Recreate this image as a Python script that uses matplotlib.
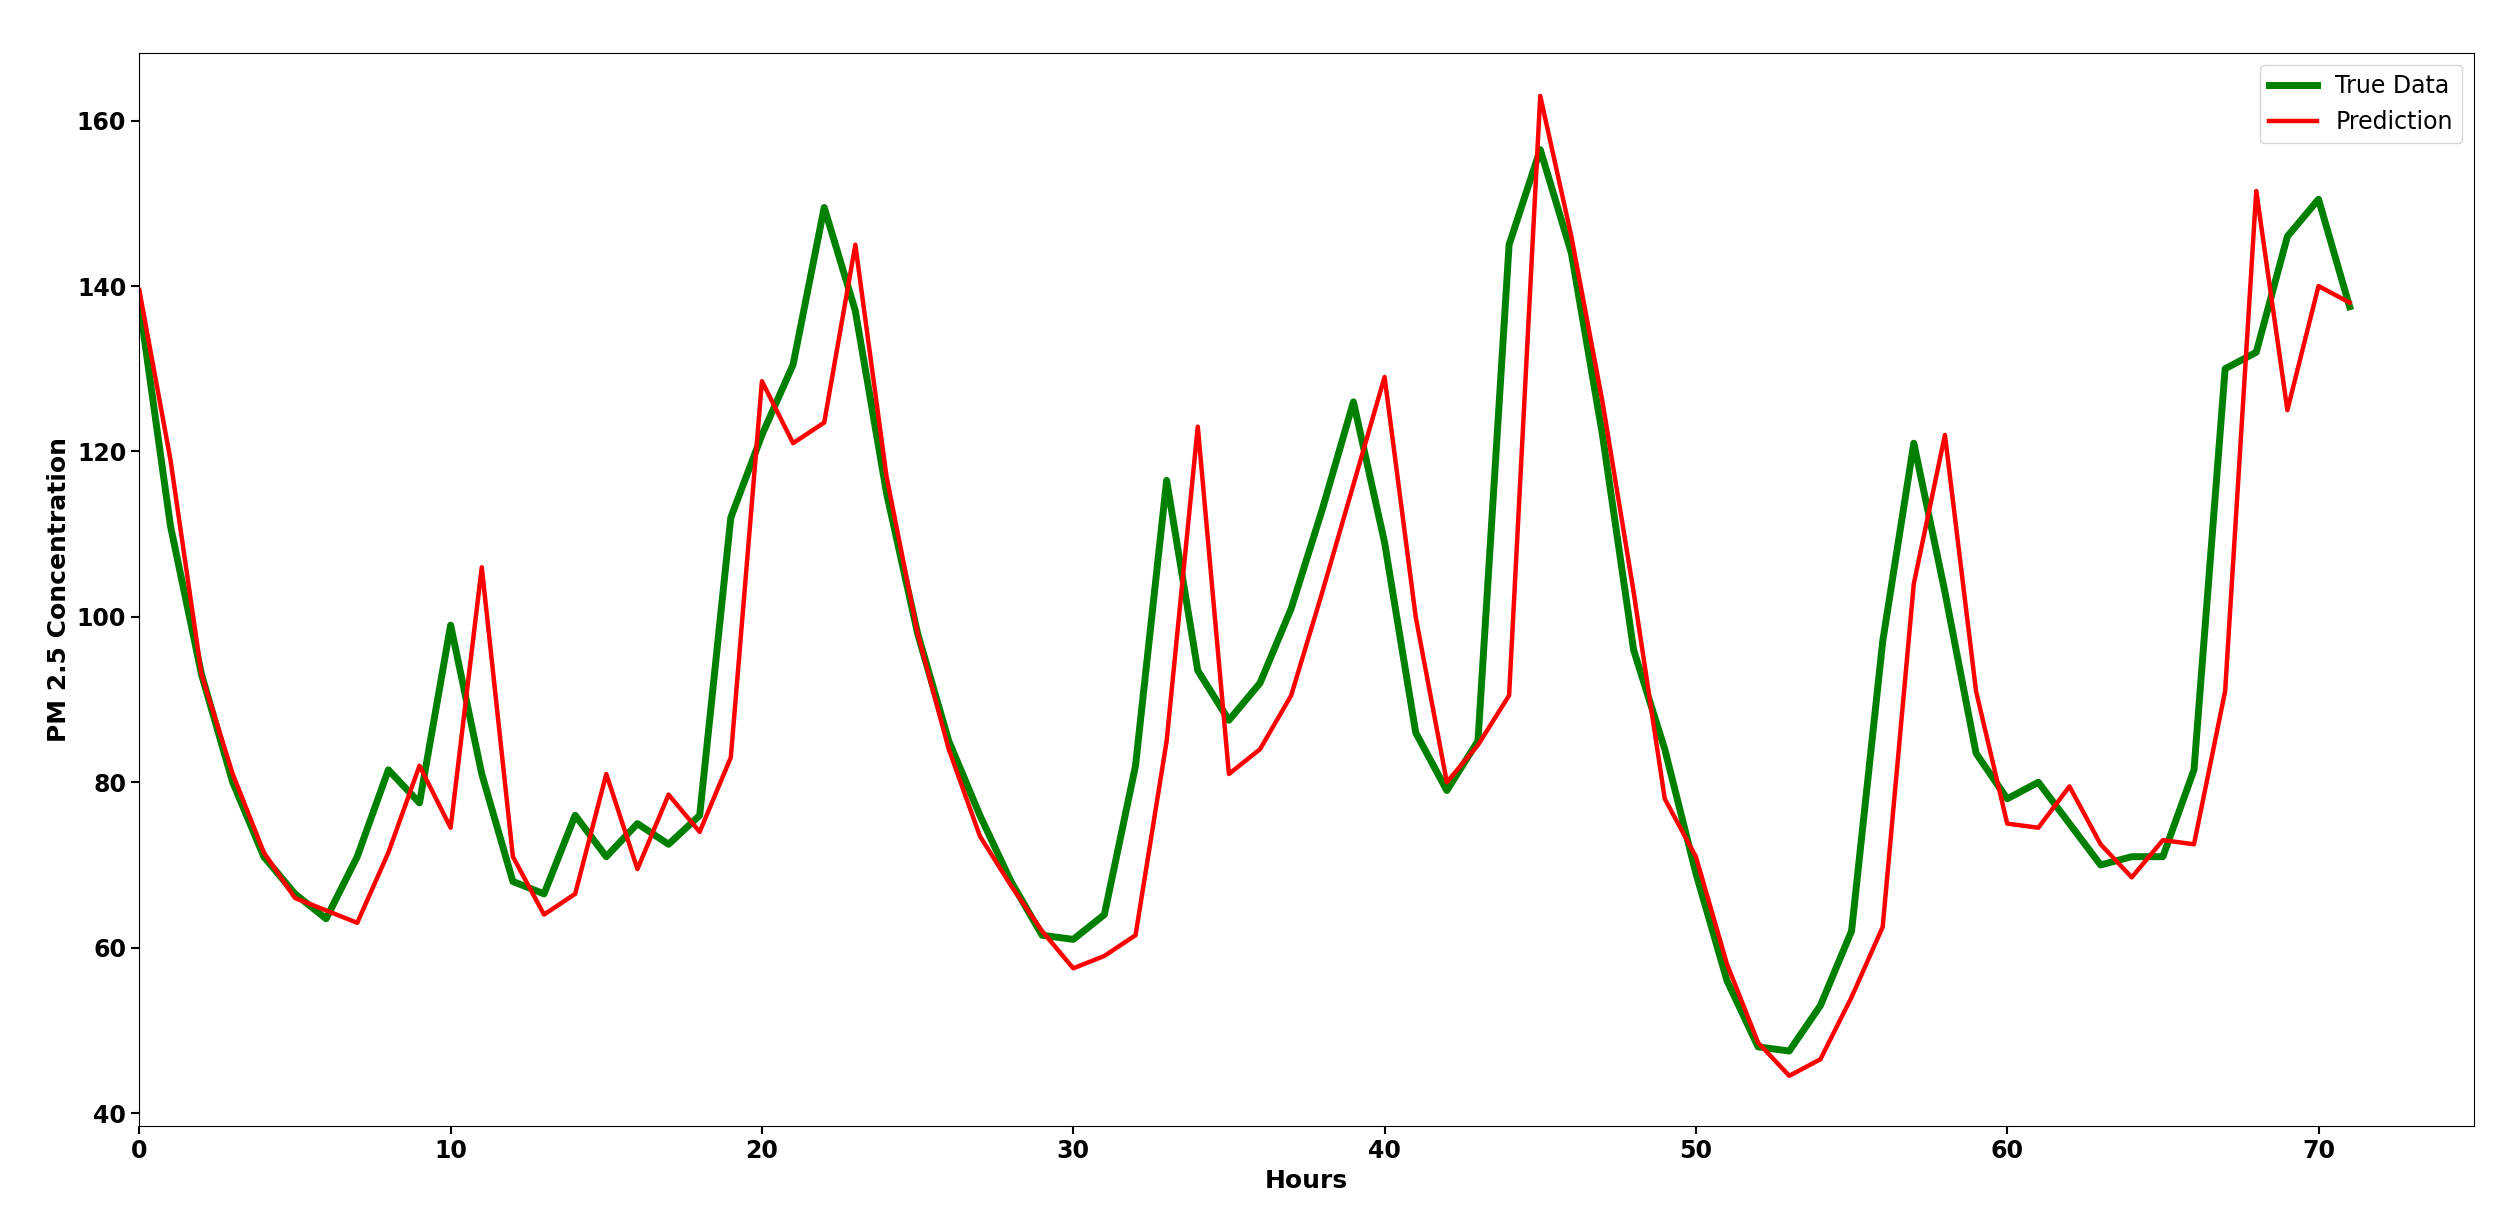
import matplotlib
matplotlib.use("Agg")
import matplotlib.pyplot as plt

hours = list(range(72))
true_data = [138,111,93,80,71,66.5,63.5,71,81.5,77.5,99,81,68,66.5,76,71,75,72.5,76,112,
             122,130.5,149.5,137,115,98,85,76,68,61.5,61,64,82,116.5,93.5,87.5,92,101,113,126,
             109,86,79,85,145,156.5,144,122,96,84,69,56,48,47.5,53,62,97,121,103,83.5,
             78,80,75,70,71,71,81.5,130,132,146,150.5,137.5]
prediction = [139.5,119,93,81,71.5,66,64.5,63,71.5,82,74.5,106,71,64,66.5,81,69.5,78.5,74,83,
              128.5,121,123.5,145,117,98,84,73.5,67.5,62,57.5,59,61.5,85,123,81,84,90.5,103,116,
              129,100,80,84.5,90.5,163,146,126,103,78,71,58,48.5,44.5,46.5,54,62.5,104,122,91,
              75,74.5,79.5,72.5,68.5,73,72.5,91,151.5,125,140,138]

fig = plt.figure(figsize=(25.11, 12.24), dpi=100)
H = 764
ax = fig.add_axes([87/1568, 1-703/H, (1545-87)/1568, (703-33)/H])
ax.plot(hours, true_data, color="green", lw=5, label="True Data")
ax.plot(hours, prediction, color="red", lw=3.2, label="Prediction")
ax.set_xlim(0, 75)
ax.set_ylim(38.4, 168.2)
ax.set_xticks([0, 10, 20, 30, 40, 50, 60, 70])
ax.set_yticks([40, 60, 80, 100, 120, 140, 160])
ax.tick_params(labelsize=17, length=6, width=1.5)
for t in ax.get_xticklabels() + ax.get_yticklabels():
    t.set_fontweight("bold")
ax.set_xlabel("Hours", fontsize=18, fontweight="bold")
ax.set_ylabel("PM 2.5 Concentration", fontsize=18, fontweight="bold")
ax.legend(loc="upper right", fontsize=17)
fig.savefig("out.png", dpi=100)
